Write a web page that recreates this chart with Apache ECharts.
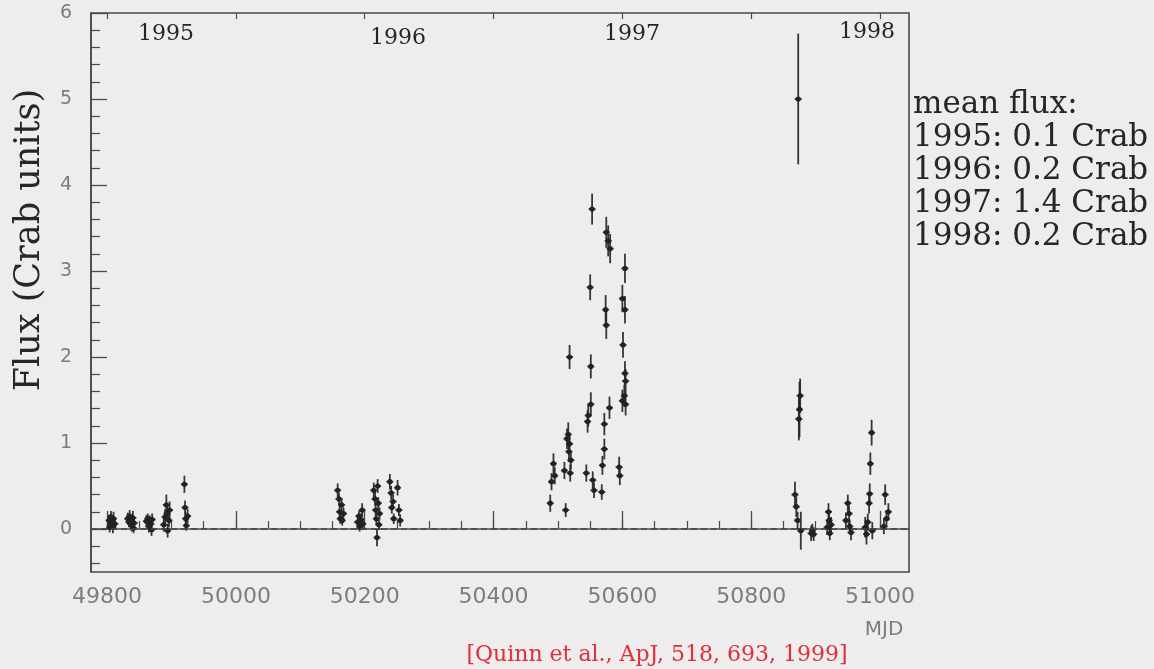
<!DOCTYPE html>
<html>
<head>
<meta charset="utf-8">
<title>Mkn 501 light curve 1995-1998</title>
<script src="https://cdn.jsdelivr.net/npm/echarts@6/dist/echarts.min.js"></script>
<style>
  html, body { margin: 0; padding: 0; background: #eeecec; }
  #chart { width: 1154px; height: 669px; }
</style>
</head>
<body>
<div id="chart"></div>
<script>
// Nightly TeV flux points: [MJD, flux (Crab units), 1-sigma error]
const obs1995 = [
  [49803, 0.10, 0.07], [49804, 0.02, 0.06], [49805, 0.05, 0.06], [49806, 0.14, 0.07], [49808, 0.08, 0.06],
  [49809, 0.02, 0.07], [49810, 0.12, 0.08], [49812, 0.06, 0.06],
  [49832, 0.12, 0.07], [49834, 0.08, 0.06], [49835, 0.15, 0.07], [49837, 0.10, 0.06],
  [49838, 0.04, 0.07], [49840, 0.13, 0.08], [49841, 0.01, 0.06], [49842, 0.07, 0.06],
  [49861, 0.09, 0.07], [49863, 0.12, 0.06], [49865, 0.03, 0.07], [49866, 0.10, 0.06],
  [49868, 0.06, 0.08], [49869, -0.01, 0.07], [49870, 0.11, 0.07],
  [49888, 0.05, 0.08], [49890, 0.14, 0.09], [49892, 0.28, 0.12], [49893, 0.18, 0.09],
  [49894, -0.02, 0.08], [49896, 0.10, 0.08], [49897, 0.22, 0.10],
  [49920, 0.52, 0.10], [49921, 0.25, 0.08], [49922, 0.12, 0.07], [49923, 0.04, 0.06], [49925, 0.15, 0.08]
];
const obs1996 = [
  [50158, 0.45, 0.08], [50160, 0.35, 0.07], [50161, 0.20, 0.07], [50162, 0.12, 0.06],
  [50164, 0.28, 0.08], [50165, 0.10, 0.06], [50167, 0.18, 0.07],
  [50189, 0.08, 0.07], [50191, 0.15, 0.06], [50192, 0.03, 0.06], [50194, 0.11, 0.07],
  [50196, 0.22, 0.08], [50197, 0.06, 0.07],
  [50214, 0.45, 0.09], [50216, 0.35, 0.08], [50217, 0.22, 0.07], [50218, 0.12, 0.07],
  [50219, -0.10, 0.10], [50220, 0.50, 0.08], [50221, 0.30, 0.07], [50222, 0.05, 0.06], [50223, 0.18, 0.07],
  [50239, 0.55, 0.09], [50241, 0.42, 0.08], [50242, 0.25, 0.07], [50244, 0.32, 0.08], [50245, 0.12, 0.06],
  [50251, 0.48, 0.09], [50253, 0.22, 0.07], [50255, 0.10, 0.07]
];
const obs1997 = [
  [50488, 0.30, 0.10], [50490, 0.55, 0.10], [50493, 0.76, 0.12], [50495, 0.62, 0.10],
  [50510, 0.68, 0.10], [50512, 0.22, 0.08], [50514, 1.05, 0.12], [50516, 1.10, 0.14],
  [50517, 0.90, 0.12], [50518, 2.00, 0.14], [50518, 0.99, 0.12], [50519, 0.65, 0.10], [50520, 0.80, 0.11],
  [50544, 0.65, 0.10], [50546, 1.25, 0.13], [50547, 1.32, 0.13], [50550, 2.81, 0.15],
  [50551, 1.89, 0.14], [50551, 1.45, 0.14], [50553, 3.72, 0.18], [50554, 0.57, 0.10], [50556, 0.45, 0.09],
  [50568, 0.43, 0.09], [50569, 0.74, 0.11], [50572, 0.93, 0.12], [50572, 1.22, 0.13],
  [50574, 2.55, 0.17], [50575, 2.37, 0.16], [50575, 3.45, 0.18], [50578, 3.35, 0.18],
  [50580, 1.41, 0.13], [50581, 3.26, 0.17],
  [50595, 0.72, 0.12], [50596, 0.62, 0.11], [50600, 2.68, 0.16], [50600, 1.49, 0.13],
  [50601, 2.14, 0.15], [50603, 1.55, 0.13], [50604, 3.03, 0.17], [50604, 2.55, 0.16],
  [50604, 1.81, 0.14], [50605, 1.72, 0.14], [50605, 1.45, 0.13]
];
const obs1998 = [
  [50873, 5.00, 0.76], [50875, 1.39, 0.32], [50874, 1.28, 0.25], [50876, 1.55, 0.20],
  [50868, 0.40, 0.15], [50870, 0.26, 0.12], [50872, 0.10, 0.10], [50877, -0.02, 0.22],
  [50893, -0.05, 0.09], [50895, -0.02, 0.08], [50897, -0.06, 0.08],
  [50918, 0.02, 0.09], [50920, 0.20, 0.10], [50921, 0.10, 0.08], [50922, -0.05, 0.08], [50924, 0.05, 0.09],
  [50947, 0.10, 0.09], [50950, 0.30, 0.10], [50952, 0.18, 0.09], [50953, 0.03, 0.08], [50955, -0.04, 0.09],
  [50977, 0.02, 0.12], [50979, -0.06, 0.12], [50981, 0.08, 0.10], [50983, 0.30, 0.12],
  [50984, 0.41, 0.12], [50985, 0.76, 0.13], [50987, 1.12, 0.15], [50988, -0.02, 0.10],
  [51006, 0.03, 0.09], [51008, 0.40, 0.12], [51010, 0.12, 0.10], [51013, 0.20, 0.10]
];

// Axis ranges and tick positions
const xRange = [49775, 51045];
const yRange = [-0.5, 6];
const xLabels = [49800, 50000, 50200, 50400, 50600, 50800, 51000];
const xMinorTicks = [49800, 49850, 49900, 49950, 50000, 50050, 50100, 50150, 50200, 50250,
  50300, 50350, 50400, 50450, 50500, 50550, 50600, 50650, 50700, 50750, 50800, 50850,
  50900, 50950, 51000];
const yLabels = [0, 1, 2, 3, 4, 5, 6];
const yMinorTicks = [-0.4, -0.2, 0.2, 0.4, 0.6, 0.8, 1.2, 1.4, 1.6, 1.8, 2.2, 2.4, 2.6, 2.8,
  3.2, 3.4, 3.6, 3.8, 4.2, 4.4, 4.6, 4.8, 5.2, 5.4, 5.6, 5.8];

// Annotation text
const yearLabels = ['1995', '1996', '1997', '1998'];
const meanFluxLines = ['mean flux:', '1995: 0.1 Crab', '1996: 0.2 Crab', '1997: 1.4 Crab', '1998: 0.2 Crab'];
const citation = '[Quinn et al., ApJ, 518, 693, 1999]';

const allObs = obs1995.concat(obs1996, obs1997, obs1998);
const ink = '#222222';
const frame = '#4a4a4a';
const serif = '"DejaVu Serif", serif';
const sans = '"DejaVu Sans", sans-serif';

const chart = echarts.init(document.getElementById('chart'), null, { renderer: 'canvas' });

// One observation: vertical error bar, short horizontal stroke and a dot
function errorBar(params, api) {
  const x = api.value(0), y = api.value(1), e = api.value(2);
  const p = api.coord([x, y]);
  const hi = api.coord([x, y + e]);
  const lo = api.coord([x, y - e]);
  return {
    type: 'group',
    children: [
      { type: 'line', shape: { x1: p[0], y1: hi[1], x2: p[0], y2: lo[1] },
        style: { stroke: ink, lineWidth: 1.8, opacity: 0.9 } },
      { type: 'line', shape: { x1: p[0] - 3.5, y1: p[1], x2: p[0] + 3.5, y2: p[1] },
        style: { stroke: ink, lineWidth: 1.8, opacity: 0.9 } },
      { type: 'circle', shape: { cx: p[0], cy: p[1], r: 2.6 }, style: { fill: ink } }
    ]
  };
}

const yearPos = [[166, 34], [398, 38], [632, 34], [867, 32]];
const graphics = [];
yearLabels.forEach((t, i) => {
  graphics.push({ type: 'text', x: yearPos[i][0], y: yearPos[i][1],
    style: { text: t, font: '22px ' + serif, fill: '#262626', align: 'center', verticalAlign: 'middle' } });
});
meanFluxLines.forEach((t, i) => {
  graphics.push({ type: 'text', x: 913, y: 105 + i * 33,
    style: { text: t, font: '31px ' + serif, fill: '#262626', align: 'left', verticalAlign: 'middle' } });
});
graphics.push({ type: 'text', x: 30, y: 240, rotation: Math.PI / 2,
  style: { text: 'Flux (Crab units)', font: '35px ' + serif, fill: '#262626', align: 'center', verticalAlign: 'middle' } });
graphics.push({ type: 'text', x: 884, y: 630,
  style: { text: 'MJD', font: '20px ' + sans, fill: '#7d7d7d', align: 'center', verticalAlign: 'middle' } });
graphics.push({ type: 'text', x: 657, y: 655,
  style: { text: citation, font: '22px ' + serif, fill: '#dd3038', align: 'center', verticalAlign: 'middle' } });

const gridBox = { left: 91, top: 13, width: 818, height: 559 };

chart.setOption({
  backgroundColor: '#eeecec',
  animation: false,
  grid: Object.assign({ show: true, borderColor: frame, borderWidth: 1.6, backgroundColor: 'transparent' }, gridBox),
  xAxis: [
    { type: 'value', min: xRange[0], max: xRange[1], position: 'bottom',
      axisLine: { show: true, lineStyle: { color: frame, width: 1.6 } },
      axisTick: { show: true, inside: true, length: 18, customValues: xLabels, lineStyle: { color: frame, width: 1.3 } },
      axisLabel: { show: true, customValues: xLabels, margin: 14, formatter: v => String(v),
        color: '#7d7d7d', fontFamily: sans, fontSize: 22 },
      splitLine: { show: false } },
    { type: 'value', min: xRange[0], max: xRange[1], position: 'bottom',
      axisLine: { show: false },
      axisTick: { show: true, inside: true, length: 8, customValues: xMinorTicks, lineStyle: { color: frame, width: 1.2 } },
      axisLabel: { show: false }, splitLine: { show: false } },
    { type: 'value', min: xRange[0], max: xRange[1], position: 'top',
      axisLine: { show: false },
      axisTick: { show: true, inside: true, length: 6, customValues: xLabels, lineStyle: { color: frame, width: 1.2 } },
      axisLabel: { show: false }, splitLine: { show: false } }
  ],
  yAxis: [
    { type: 'value', min: yRange[0], max: yRange[1], position: 'left',
      axisLine: { show: true, lineStyle: { color: frame, width: 1.6 } },
      axisTick: { show: true, inside: true, length: 16, customValues: yLabels, lineStyle: { color: frame, width: 1.3 } },
      axisLabel: { show: true, customValues: yLabels, margin: 19, formatter: v => String(v),
        color: '#7d7d7d', fontFamily: sans, fontSize: 19 },
      splitLine: { show: false } },
    { type: 'value', min: yRange[0], max: yRange[1], position: 'left',
      axisLine: { show: false },
      axisTick: { show: true, inside: true, length: 9, customValues: yMinorTicks, lineStyle: { color: frame, width: 1.2 } },
      axisLabel: { show: false }, splitLine: { show: false } }
  ],
  graphic: graphics,
  series: [
    // dashed zero-flux reference line
    { type: 'line', data: [], xAxisIndex: 0, yAxisIndex: 0, symbol: 'none',
      markLine: { silent: true, symbol: 'none', label: { show: false },
        lineStyle: { color: '#444', type: [6, 4], width: 1.6 },
        data: [{ yAxis: 0 }] } },
    { type: 'custom', xAxisIndex: 0, yAxisIndex: 0, renderItem: errorBar,
      encode: { x: 0, y: 1 }, data: allObs, clip: true, z: 3 }
  ]
});
</script>
</body>
</html>
